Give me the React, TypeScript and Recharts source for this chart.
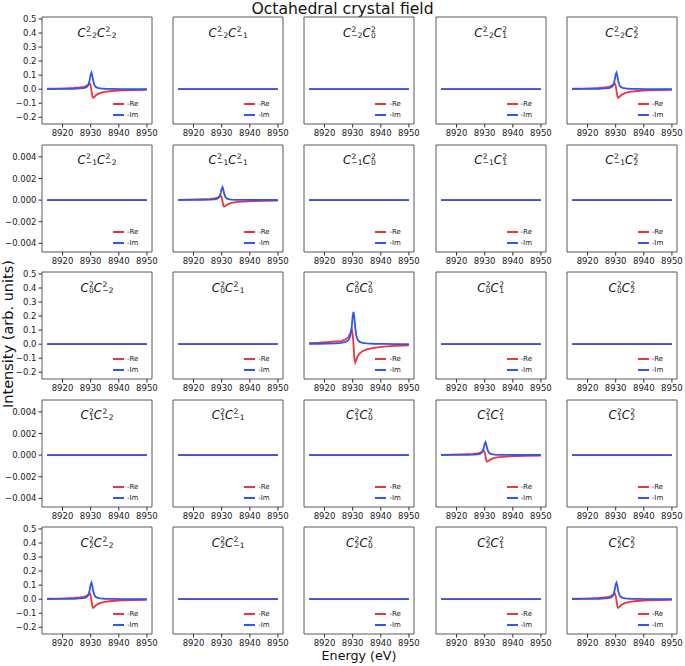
import { LineChart, Line, XAxis, YAxis, ReferenceArea } from 'recharts'

// magnetic quantum numbers for the C^2_m labels
const mLabels = ['−2', '−1', '0', '1', '2']

// energy grid (eV), denser around the resonance
const energies = [
  8914.5, 8918, 8921, 8924, 8926, 8927.5, 8928.5, 8929.2, 8929.7, 8930.0, 8930.3,
  8930.6, 8930.9, 8931.3, 8931.8, 8932.5, 8933.5, 8935, 8937.5, 8941, 8945, 8950,
]

const flat = [0, 0, 0, 0, 0, 0, 0, 0, 0, 0, 0, 0, 0, 0, 0, 0, 0, 0, 0, 0, 0, 0]

// C(-2)C(-2), C(-2)C(2), C(2)C(-2), C(2)C(2)
const cornerRe = [
  0.003, 0.004, 0.006, 0.009, 0.012, 0.017, 0.024, 0.034, 0.04, 0.025, -0.01,
  -0.05, -0.062, -0.055, -0.045, -0.035, -0.026, -0.019, -0.013, -0.009, -0.006, -0.004,
]
const cornerIm = [
  0.001, 0.0015, 0.002, 0.003, 0.005, 0.008, 0.014, 0.03, 0.07, 0.105, 0.118,
  0.095, 0.06, 0.03, 0.016, 0.009, 0.005, 0.003, 0.002, 0.001, 0.001, 0.0005,
]

// C(0)C(0)
const centreRe = [
  0.008, 0.011, 0.015, 0.019, 0.022, 0.035, 0.05, 0.08, 0.105, 0.07, 0.0,
  -0.1, -0.13, -0.11, -0.085, -0.065, -0.05, -0.037, -0.026, -0.017, -0.012, -0.009,
]
const centreIm = [
  0.002, 0.003, 0.004, 0.006, 0.01, 0.016, 0.028, 0.06, 0.13, 0.2, 0.23,
  0.19, 0.12, 0.06, 0.03, 0.016, 0.009, 0.005, 0.003, 0.002, 0.001, 0.001,
]

// C(-1)C(-1), C(1)C(1)
const weakRe = [
  0.00003, 0.00004, 0.00006, 0.00009, 0.00012, 0.00017, 0.00024, 0.00034, 0.0004, 0.00025, -0.0001,
  -0.0005, -0.0006, -0.00055, -0.00045, -0.00035, -0.00026, -0.00019, -0.00013, -0.00009, -0.00006, -0.00004,
]
const weakIm = [
  0.00001, 0.00002, 0.00002, 0.00003, 0.00005, 0.00008, 0.00014, 0.0003, 0.0007, 0.00105, 0.0012,
  0.00095, 0.0006, 0.0003, 0.00016, 0.00009, 0.00005, 0.00003, 0.00002, 0.00001, 0.00001, 0.00001,
]

const energyTicks = [8920, 8930, 8940, 8950]
const wideTicks = [-0.2, -0.1, 0, 0.1, 0.2, 0.3, 0.4, 0.5]
const narrowTicks = [-0.004, -0.002, 0, 0.002, 0.004]

const energyDomain: [number, number] = [8912.7, 8951.8]
const wideDomain: [number, number] = [-0.248, 0.514]
const narrowDomain: [number, number] = [-0.0048, 0.0051]

const RED = '#f5313f'
const BLUE = '#2e56f2'
const FONT = '"DejaVu Sans", sans-serif'

const COL_X = [42, 173.2, 304.4, 435.6, 566.8]
const ROW_Y = [17, 144.5, 272, 399.5, 527]
const PLOT_W = 110
const PLOT_H = 107
const AXIS_W = 42
const TOP_PAD = 2
const RIGHT_PAD = 14
const X_AXIS_H = 20

const tickStyle = { fontSize: 8.5, fill: '#1a1a1a', fontFamily: FONT }

function pickSeries(r: number, c: number): [number[], number[]] {
  if (r === 2 && c === 2) return [centreRe, centreIm]
  if ((r === 0 || r === 4) && (c === 0 || c === 4)) return [cornerRe, cornerIm]
  if ((r === 1 && c === 1) || (r === 3 && c === 3)) return [weakRe, weakIm]
  return [flat, flat]
}

// C with stacked superscript 2 and subscript m (one text node, two lines)
function CTerm({ sub }: { sub: string }) {
  return (
    <span style={{ display: 'inline-flex', alignItems: 'center' }}>
      <span style={{ fontStyle: 'italic', fontSize: 11.5, lineHeight: '14px' }}>C</span>
      <span
        style={{
          display: 'inline-block',
          whiteSpace: 'pre',
          fontSize: 7.5,
          lineHeight: '5.7px',
          marginLeft: 0.5,
        }}
      >
        {`2\n${sub}`}
      </span>
    </span>
  )
}

function Panel({ row, col }: { row: number; col: number }) {
  const [re, im] = pickSeries(row, col)
  const data = energies.map((x, k) => ({ x, re: re[k], im: im[k] }))
  const narrow = row === 1 || row === 3
  const domain = narrow ? narrowDomain : wideDomain
  const ticks = narrow ? narrowTicks : wideTicks
  const fmt = (v: number) => v.toFixed(narrow ? 3 : 1).replace('-', '−')

  return (
    <div style={{ position: 'absolute', left: COL_X[col] - AXIS_W, top: ROW_Y[row] - TOP_PAD }}>
      <LineChart
        width={AXIS_W + PLOT_W + RIGHT_PAD}
        height={TOP_PAD + PLOT_H + X_AXIS_H}
        data={data}
        margin={{ top: TOP_PAD, right: RIGHT_PAD, bottom: 0, left: 0 }}
      >
        <XAxis
          type="number"
          dataKey="x"
          domain={energyDomain}
          ticks={energyTicks}
          allowDataOverflow
          interval={0}
          height={X_AXIS_H}
          axisLine={false}
          tickSize={3.5}
          tickLine={{ stroke: '#333' }}
          tick={tickStyle}
        />
        <YAxis
          type="number"
          domain={domain}
          ticks={ticks}
          allowDataOverflow
          interval={0}
          width={AXIS_W}
          axisLine={false}
          tickSize={3.5}
          tickLine={col === 0 ? { stroke: '#333' } : false}
          tick={col === 0 ? tickStyle : false}
          tickFormatter={fmt}
        />
        <ReferenceArea
          x1={energyDomain[0]}
          x2={energyDomain[1]}
          y1={domain[0]}
          y2={domain[1]}
          fill="none"
          stroke="#5a5a5a"
          strokeWidth={1}
          ifOverflow="visible"
        />
        <Line type="linear" dataKey="re" stroke={RED} strokeWidth={1.8} dot={false} isAnimationActive={false} />
        <Line type="linear" dataKey="im" stroke={BLUE} strokeWidth={1.8} dot={false} isAnimationActive={false} />
      </LineChart>

      {/* panel title */}
      <div
        style={{
          position: 'absolute',
          left: AXIS_W,
          width: PLOT_W,
          top: TOP_PAD + 8.5,
          height: 14,
          display: 'flex',
          justifyContent: 'center',
          alignItems: 'center',
          fontFamily: FONT,
          color: '#111',
        }}
      >
        <CTerm sub={mLabels[row]} />
        <CTerm sub={mLabels[col]} />
      </div>

      {/* legend */}
      {[
        { name: '-Re', color: RED, dy: 20 },
        { name: '-Im', color: BLUE, dy: 9 },
      ].map((e) => (
        <div
          key={e.name}
          style={{
            position: 'absolute',
            left: AXIS_W + PLOT_W - 39,
            top: TOP_PAD + PLOT_H - e.dy - 5,
            height: 10,
            display: 'flex',
            alignItems: 'center',
            fontFamily: FONT,
            fontSize: 7,
            color: '#222',
          }}
        >
          <span style={{ width: 11, height: 2, background: e.color, marginRight: 3 }} />
          <span>{e.name}</span>
        </div>
      ))}
    </div>
  )
}

export default function App() {
  return (
    <div
      style={{
        position: 'absolute',
        left: 0,
        top: 0,
        width: 685,
        height: 666,
        background: '#fff',
        fontFamily: FONT,
        overflow: 'hidden',
      }}
    >
      <div
        style={{
          position: 'absolute',
          left: 0,
          width: 685,
          top: 0,
          lineHeight: '18px',
          textAlign: 'center',
          fontSize: 15.6,
          color: '#111',
        }}
      >
        Octahedral crystal field
      </div>

      {mLabels.map((_, r) => mLabels.map((__, c) => <Panel key={`${r}-${c}`} row={r} col={c} />))}

      <div
        style={{
          position: 'absolute',
          left: 8,
          top: 334,
          transform: 'translate(-50%, -50%) rotate(-90deg)',
          whiteSpace: 'nowrap',
          fontSize: 14.5,
          color: '#111',
        }}
      >
        Intensity (arb. units)
      </div>

      <div
        style={{
          position: 'absolute',
          left: 359,
          top: 648,
          transform: 'translateX(-50%)',
          whiteSpace: 'nowrap',
          fontSize: 12.7,
          lineHeight: '16px',
          color: '#111',
        }}
      >
        Energy (eV)
      </div>
    </div>
  )
}
